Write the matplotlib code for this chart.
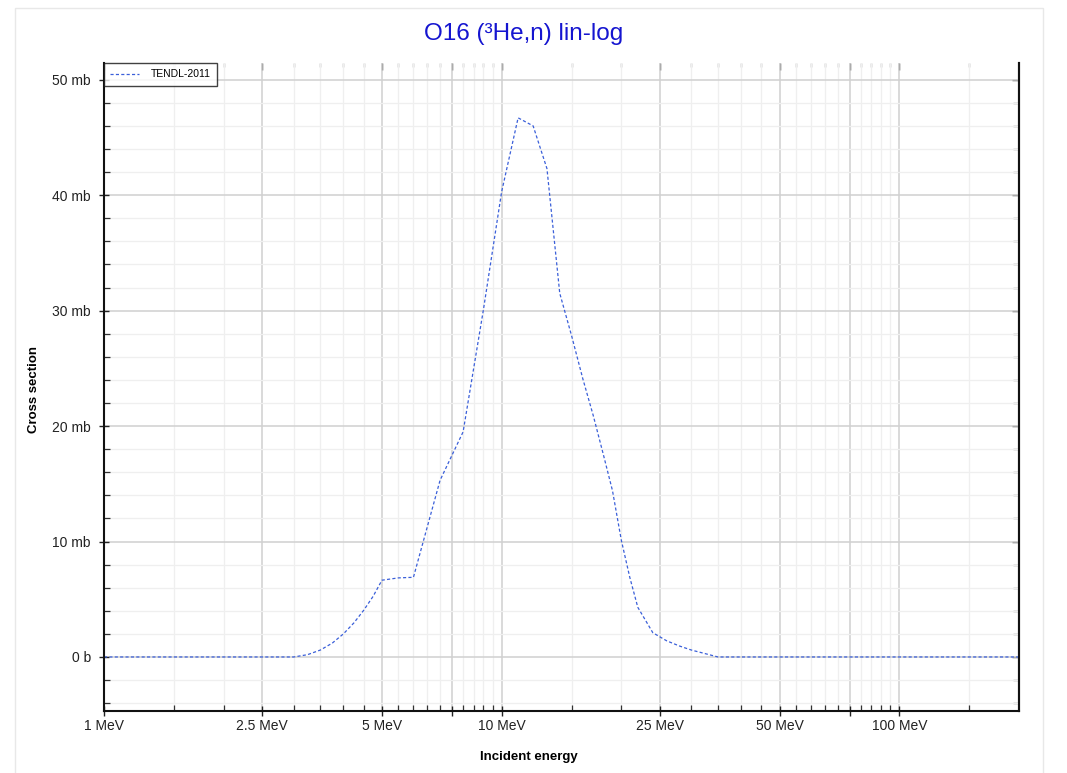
import matplotlib
matplotlib.use("Agg")
import matplotlib.pyplot as plt
from matplotlib.ticker import FixedLocator, FixedFormatter, NullFormatter
from matplotlib.patches import Rectangle

plt.rcParams['font.family'] = ['Liberation Sans', 'DejaVu Sans']

# ---- data ----
energy_mev = [1.0, 2.0, 3.0, 3.25, 3.5, 3.75, 4.0, 4.25, 4.5, 4.75, 5.0, 5.5, 6.0,
              7.0, 8.0, 9.0, 10.0, 11.0, 12.0, 13.0, 14.0, 15.0, 16.0, 17.0, 18.0,
              19.0, 20.0, 21.0, 22.0, 24.0, 26.0, 28.0, 30.0, 35.0, 40.0, 50.0,
              100.0, 150.0, 200.0]
xs_mb = [0.0, 0.0, 0.0, 0.2, 0.6, 1.2, 2.0, 2.95, 4.05, 5.25, 6.65, 6.85, 6.9,
         15.3, 19.5, 30.1, 40.3, 46.7, 46.0, 42.3, 31.5, 27.8, 24.1, 20.9, 17.6,
         14.4, 10.1, 6.9, 4.3, 2.1, 1.4, 0.95, 0.6, 0.0, 0.0, 0.0,
         0.0, 0.0, 0.0]
series_label = "TENDL-2011"
title = "O16 (³He,n) lin-log"

x_major = [1, 2.5, 5, 7.5, 10, 25, 50, 75, 100]
x_major_labels = ["1 MeV", "2.5 MeV", "5 MeV", "", "10 MeV", "25 MeV", "50 MeV", "", "100 MeV"]
x_minor = ([1.5, 2, 3, 3.5, 4, 4.5, 5.5, 6, 6.5, 7, 8, 8.5, 9, 9.5, 15, 20,
            30, 35, 40, 45, 55, 60, 65, 70, 80, 85, 90, 95, 150])
y_major = [0, 10, 20, 30, 40, 50]
y_major_labels = ["0 b", "10 mb", "20 mb", "30 mb", "40 mb", "50 mb"]
y_minor = [-4, -2, 2, 4, 6, 8, 12, 14, 16, 18, 22, 24, 26, 28, 32, 34, 36, 38,
           42, 44, 46, 48]

W, H = 1067, 773
fig = plt.figure(figsize=(W / 100, H / 100), dpi=100)
ax = fig.add_axes([104 / W, 1 - 711 / H, (1019 - 104) / W, (711 - 63) / H])

ax.plot(energy_mev, xs_mb, color='#3a5fd9', lw=0.9, ls=(0, (2.5, 1.8)), label=series_label)

ax.set_xscale('log')
ax.set_xlim(1, 200)
ax.set_ylim(-4.68, 51.45)

ax.xaxis.set_major_locator(FixedLocator(x_major))
ax.xaxis.set_major_formatter(FixedFormatter(x_major_labels))
ax.xaxis.set_minor_locator(FixedLocator(x_minor))
ax.xaxis.set_minor_formatter(NullFormatter())
ax.yaxis.set_major_locator(FixedLocator(y_major))
ax.yaxis.set_major_formatter(FixedFormatter(y_major_labels))
ax.yaxis.set_minor_locator(FixedLocator(y_minor))

ax.grid(which='major', color='#d0d0d0', lw=1.1)
ax.grid(which='minor', color='#efefef', lw=0.9)
ax.set_axisbelow(True)

ax.tick_params(which='major', direction='inout', length=7, width=1.0, labelsize=10,
               colors='#222222', labelcolor='#222222')
ax.tick_params(which='minor', direction='in', length=4, width=0.9, colors='#333333')
ax.tick_params(axis='x', which='major', pad=2)
ax.tick_params(axis='y', which='major', pad=6)

for s in ax.spines.values():
    s.set_color('#111111')
    s.set_linewidth(1.5)
ax.spines['top'].set_visible(False)

# inward ticks on top and right
sx = ax.secondary_xaxis('top')
sx.xaxis.set_major_locator(FixedLocator(x_major))
sx.xaxis.set_minor_locator(FixedLocator(x_minor))
sx.xaxis.set_major_formatter(NullFormatter())
sx.xaxis.set_minor_formatter(NullFormatter())
sx.tick_params(which='major', direction='in', length=5, width=1.0, colors='#333333')
sx.tick_params(which='minor', direction='in', length=3, width=0.9, colors='#555555')
sx.spines['top'].set_visible(False)

sy = ax.secondary_yaxis('right')
sy.yaxis.set_major_locator(FixedLocator(y_major))
sy.yaxis.set_minor_locator(FixedLocator(y_minor))
sy.yaxis.set_major_formatter(NullFormatter())
sy.yaxis.set_minor_formatter(NullFormatter())
sy.tick_params(which='major', direction='in', length=5, width=1.0, colors='#333333')
sy.tick_params(which='minor', direction='in', length=4, width=0.9, colors='#333333')
sy.spines['right'].set_color('#111111')
sy.spines['right'].set_linewidth(1.5)

fig.text(529 / W, 1 - 757 / H, "Incident energy", fontsize=9.5, fontweight='bold',
         ha='center', va='center')
fig.text(34 / W, 1 - 390 / H, "Cross section", fontsize=9.5, fontweight='bold',
         ha='center', va='center', rotation=90)

leg = ax.legend(loc='upper left', bbox_to_anchor=(0, 1), borderaxespad=0,
                fontsize=7.5, frameon=True, fancybox=False, handlelength=2.8,
                handletextpad=1.1, borderpad=0.6)
leg.get_frame().set_edgecolor('#111111')
leg.get_frame().set_linewidth(1.0)

fig.text(524 / W, 1 - 34 / H, title, color='#1515d0', fontsize=17.5, ha='center', va='center')

fig.patches.append(Rectangle((15 / W, -0.05), (1043 - 15) / W, 1.05 - 8 / H,
                             transform=fig.transFigure, fill=False,
                             edgecolor='#e8e8e8', lw=1.0))

fig.savefig("out.png", dpi=100)
